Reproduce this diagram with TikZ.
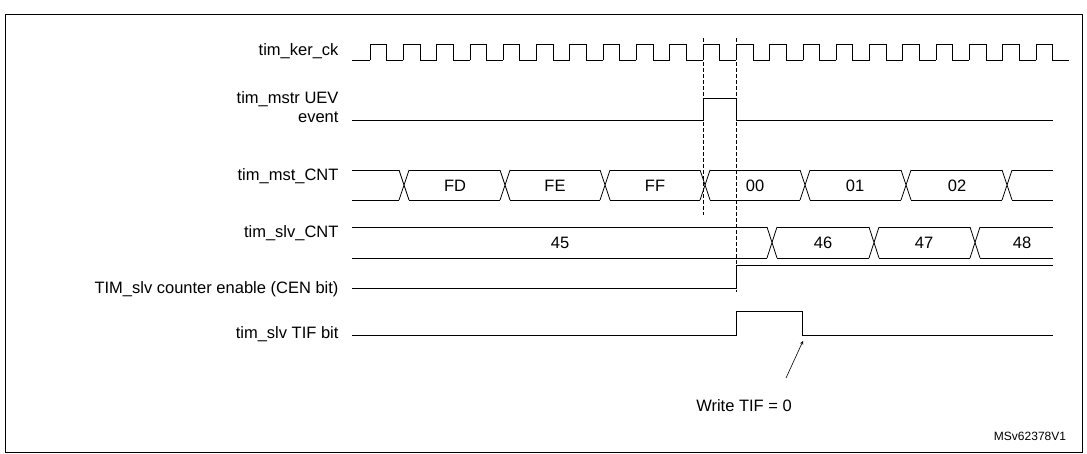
\documentclass[tikz,border=0pt]{standalone}
\usepackage{fontspec}
\setmainfont{Liberation Sans}
\usetikzlibrary{positioning, arrows}
\tikzset{
    x=1pt, y=-1pt, % pixel like units, y going down
    sig/.style={line width=0.8pt}, % the waveforms
    lbl/.style={anchor=east, font=\fontsize{16.5}{19}\selectfont, align=right}, % signal names
    val/.style={font=\fontsize{16.5}{19}\selectfont}, % bus values
    marker/.style={line width=0.6pt, dash pattern=on 4pt off 2pt}, % dashed markers
    >=stealth,
}
\begin{document}
\begin{tikzpicture}
    \useasboundingbox (0,0) rectangle (1087,453);
    \draw[line width=1pt] (5,14) rectangle (1082,452);
    % labels
    \node[lbl] (ker) at (342,51) {tim\_ker\_ck};
    \node[lbl] (uev) at (342,107) {tim\_mstr UEV\\event};
    \node[lbl] (mst) at (342,176) {tim\_mst\_CNT};
    \node[lbl] (slv) at (342,233) {tim\_slv\_CNT};
    \node[lbl] (cen) at (342,289) {TIM\_slv counter enable (CEN bit)};
    \node[lbl] (tif) at (342,334) {tim\_slv TIF bit};
    % clock
    \draw[sig] (352,60) -- (370,60);
    \foreach \k in {0,...,20}
        \draw[sig] ({370+33.3*\k},60) -- ({370+33.3*\k},44) -- ({386.6+33.3*\k},44)
            -- ({386.6+33.3*\k},60) -- ({403.3+33.3*\k},60);
    % update event
    \draw[sig] (352,120) -- (703,120) -- (703,98) -- (736,98) -- (736,120) -- (1053,120);
    % master counter
    \foreach \t in {404,505,605,705,805,906,1007}
        \draw[sig] (\t-5,170) -- (\t+5,200) (\t-5,200) -- (\t+5,170);
    \draw[sig] (352,170) -- (399,170) (352,200) -- (399,200);
    \foreach \a/\b in {404/505,505/605,605/705,705/805,805/906,906/1007}
        \draw[sig] (\a+5,170) -- (\b-5,170) (\a+5,200) -- (\b-5,200);
    \draw[sig] (1012,170) -- (1053,170) (1012,200) -- (1053,200);
    \foreach \x/\v in {455/FD,555/FE,655/FF,755/00,855/01,957/02}
        \node[val] (m\v) at (\x,186) {\v};
    % slave counter
    \draw[sig] (352,227) -- (767,227) (352,258) -- (767,258);
    \foreach \t in {772,874,975}
        \draw[sig] (\t-5,227) -- (\t+5,258) (\t-5,258) -- (\t+5,227);
    \foreach \a/\b in {772/874,874/975}
        \draw[sig] (\a+5,227) -- (\b-5,227) (\a+5,258) -- (\b-5,258);
    \draw[sig] (980,227) -- (1053,227) (980,258) -- (1053,258);
    \foreach \x/\v in {560/45,823/46,924/47,1022/48}
        \node[val] (s\v) at (\x,243) {\v};
    % counter enable
    \draw[sig] (352,288) -- (736,288) -- (736,265) -- (1053,265);
    % trigger flag
    \draw[sig] (352,335) -- (736,335) -- (736,311) -- (802,311) -- (802,335) -- (1053,335);
    % markers
    \draw[marker] (703,38) -- (703,215);
    \draw[marker] (736,38) -- (736,292);
    % write note
    \node[val] (wr) at (744,406) {Write TIF = 0};
    \coordinate (clr) at (803,341);
    \draw[->, line width=0.6pt] (786,378) -- (clr);
    \node[font=\fontsize{12}{13}\selectfont] (ref) at (1030,436) {MSv62378V1};
\end{tikzpicture}
\end{document}
